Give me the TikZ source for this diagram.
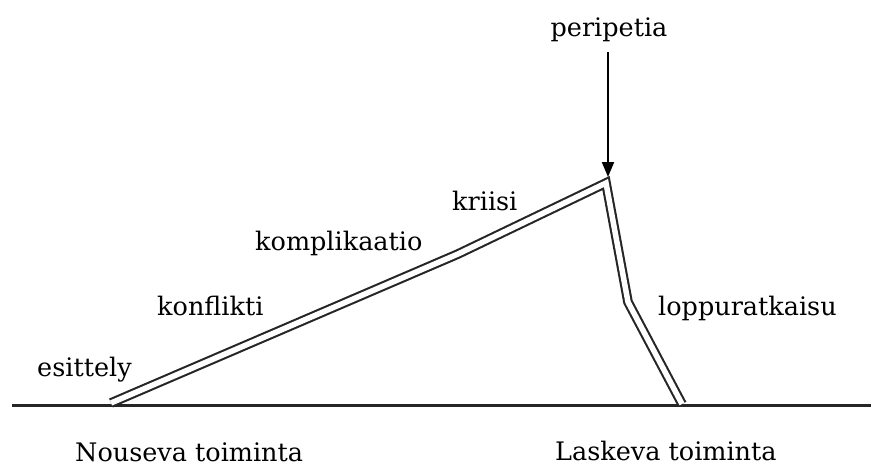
\documentclass[tikz,border=0pt]{standalone}
\usepackage{fontspec}
\setmainfont{DejaVu Serif}
\usetikzlibrary{arrows.meta}
\begin{document}
\begin{tikzpicture}[x=1pt,y=-1pt,
  lbl/.style={font=\fontsize{25.5}{30}\selectfont, inner sep=0pt, anchor=west},
  curve/.style={draw=black!85, line width=2.1pt, double=white, double distance=5.5pt, line join=miter},
  base/.style={draw=black!85, line width=3pt}]
\useasboundingbox (0,0) rectangle (871,469);
% baseline
\coordinate (bl) at (12,405);
\coordinate (br) at (871,405);
\draw[base] (bl) -- (br);
% plot line
\coordinate (s) at (111,403);
\coordinate (k1) at (458,254);
\coordinate (p) at (606,183);
\coordinate (k2) at (628,302);
\coordinate (e) at (682,404);
\draw[curve] (s) -- (k1) -- (p) -- (k2) -- (e);
% labels
\node[lbl] (esittely) at (37,370) {esittely};
\node[lbl] (konflikti) at (157,306) {konflikti};
\node[lbl] (komplikaatio) at (255,243) {komplikaatio};
\node[lbl] (kriisi) at (452,201) {kriisi};
\node[lbl] (loppu) at (658,308) {loppuratkaisu};
\node[lbl, anchor=center] (peripetia) at (609,30) {peripetia};
\node[lbl] (nouseva) at (75,452) {Nouseva toiminta};
\node[lbl] (laskeva) at (555,451) {Laskeva toiminta};
\coordinate (tip) at (608,177);
\draw[line width=2pt, -{Triangle[length=15pt,width=12pt]}] (608,52) -- (tip);
\end{tikzpicture}
\end{document}
